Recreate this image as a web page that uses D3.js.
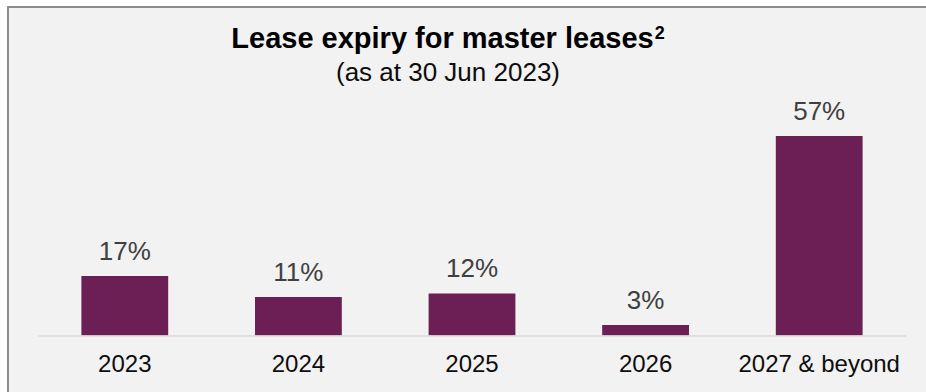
<!DOCTYPE html>
<html>
<head>
<meta charset="utf-8">
<script src="https://cdn.jsdelivr.net/npm/d3@7"></script>
<style>
  html, body { margin: 0; padding: 0; background: #ffffff; }
  svg { display: block; font-family: "Liberation Sans", Arial, Helvetica, sans-serif; }
</style>
</head>
<body>
<svg id="chart" width="926" height="392"></svg>
<script>
// Share of master-lease income expiring in each period (%)
const categories = ["2023", "2024", "2025", "2026", "2027 & beyond"];
const shares = [17, 11, 12, 3, 57];
const titleText = "Lease expiry for master leases";
const titleNote = "2";
const subtitleText = "(as at 30 Jun 2023)";

const W = 926, H = 392;
const svg = d3.select("#chart");

// Panel with grey fill and a frame on the top and left edges
svg.append("rect")
  .attr("x", 8).attr("y", 7)
  .attr("width", W + 20).attr("height", H + 20)
  .attr("fill", "#f2f2f2")
  .attr("stroke", "#8c8c8c")
  .attr("stroke-width", 2);

const baseY = 335.5;

const x = d3.scaleBand()
  .domain(categories)
  .range([38, 906])
  .paddingInner(0.5)
  .paddingOuter(0.25);

const y = d3.scaleLinear()
  .domain([0, 60])
  .range([baseY, 125.5]);

const data = categories.map((c, i) => ({ cat: c, v: shares[i] }));

// Bars
svg.append("g")
  .selectAll("rect")
  .data(data)
  .join("rect")
  .attr("x", d => x(d.cat))
  .attr("y", d => y(d.v))
  .attr("width", x.bandwidth())
  .attr("height", d => y(0) - y(d.v))
  .attr("fill", "#6b1f55");

// Category axis along the baseline
const axis = svg.append("g")
  .attr("transform", `translate(0,${baseY})`)
  .call(d3.axisBottom(x).tickSize(0).tickSizeOuter(0));
axis.select(".domain")
  .attr("stroke", "#d9d9d9")
  .attr("stroke-width", 1.5);
axis.selectAll("text")
  .attr("y", 36.5)
  .attr("dy", null)
  .attr("fill", "#0d0d0d")
  .style("font-size", "24px")
  .style("font-family", "'Liberation Sans', Arial, sans-serif");

// Value labels above bars
svg.append("g")
  .selectAll("text")
  .data(data)
  .join("text")
  .attr("x", d => x(d.cat) + x.bandwidth() / 2)
  .attr("y", d => y(d.v) - 16.5)
  .attr("text-anchor", "middle")
  .attr("fill", "#404040")
  .style("font-size", "26px")
  .text(d => d.v + "%");

// Title and subtitle
const title = svg.append("text")
  .attr("x", 448)
  .attr("y", 48)
  .attr("text-anchor", "middle")
  .attr("fill", "#000000")
  .style("font-size", "29px")
  .style("font-weight", "bold");
title.append("tspan").text(titleText);
title.append("tspan")
  .attr("dx", 1)
  .attr("dy", -9)
  .style("font-size", "18px")
  .text(titleNote);

svg.append("text")
  .attr("x", 448)
  .attr("y", 81)
  .attr("text-anchor", "middle")
  .attr("fill", "#0d0d0d")
  .style("font-size", "26px")
  .text(subtitleText);
</script>
</body>
</html>
